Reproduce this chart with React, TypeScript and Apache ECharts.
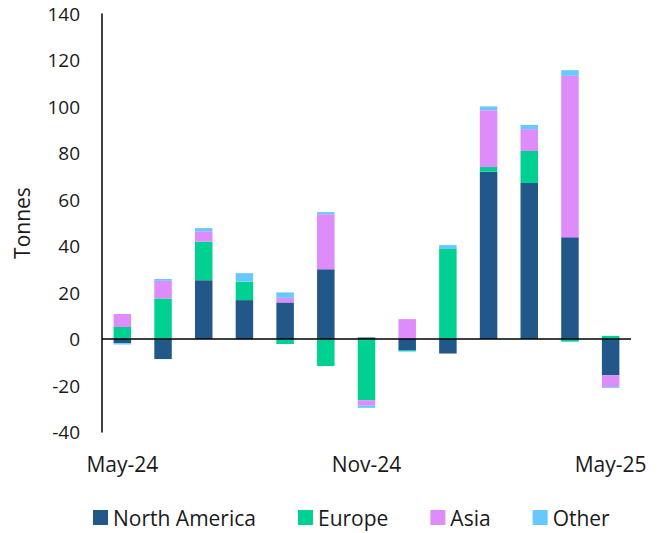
import React, { useEffect, useRef } from "react";
import * as echarts from "echarts";

const categories = [
  "May-24", "Jun-24", "Jul-24", "Aug-24", "Sep-24", "Oct-24", "Nov-24",
  "Dec-24", "Jan-25", "Feb-25", "Mar-25", "Apr-25", "May-25",
];
const northAmerica = [-1.8, -8.6, 25.4, 16.8, 15.8, 30.1, 0.7, -4.7, -6.2, 72.1, 67.2, 43.9, -15.6];
const europe = [5.2, 17.5, 16.5, 7.9, -2.1, -11.6, -26.3, -0.4, 38.8, 2.0, 13.8, -1.1, 1.4];
const asia = [5.6, 7.6, 4.5, 0, 2.0, 23.7, -2.3, 8.6, 0, 24.5, 9.4, 69.5, -5.0];
const other = [-0.5, 0.8, 1.4, 3.7, 2.3, 0.9, -1.0, -0.3, 1.7, 1.6, 1.8, 2.4, -0.4];

const seriesNames = ["North America", "Europe", "Asia", "Other"];
const seriesColors = ["#22578A", "#00D092", "#DD8CFA", "#66C8FF"];

export default function App() {
  const ref = useRef<HTMLDivElement>(null);
  useEffect(() => {
    document.body.style.margin = "0";
    if (!ref.current) return;
    const chart = echarts.init(ref.current, undefined, { renderer: "svg" });
    const font = "'Open Sans', 'Noto Sans', sans-serif";
    const datasets = [northAmerica, europe, asia, other];
    chart.setOption({
      animation: false,
      textStyle: { fontFamily: font },
      grid: { left: 102, right: 32, top: 14, bottom: 101, containLabel: false },
      legend: {
        data: seriesNames,
        left: 88,
        top: 505,
        padding: [2, 5, 2, 5],
        icon: "rect",
        itemWidth: 15,
        itemHeight: 15,
        itemGap: 42,
        textStyle: { fontSize: 21, color: "#1a1a1a", fontFamily: font },
      },
      xAxis: {
        type: "category",
        data: categories,
        axisLine: { show: false, onZero: false },
        axisTick: { show: false },
        axisLabel: { interval: 5, fontSize: 21, color: "#1a1a1a", margin: 21, fontFamily: font },
        splitLine: { show: false },
      },
      yAxis: {
        type: "value",
        min: -40,
        max: 140,
        interval: 20,
        name: "Tonnes",
        nameLocation: "middle",
        nameGap: 70,
        nameTextStyle: { fontSize: 21, color: "#1a1a1a", fontFamily: font },
        axisLine: { show: true, lineStyle: { color: "#000", width: 1.5 } },
        axisTick: { show: false },
        axisLabel: { fontSize: 19, color: "#1a1a1a", margin: 22, fontFamily: font },
        splitLine: { show: false },
      },
      series: datasets.map((d, i) => ({
        name: seriesNames[i],
        type: "bar",
        stack: "total",
        data: d,
        barWidth: "43%",
        itemStyle: { color: seriesColors[i] },
        ...(i === 0
          ? {
              markLine: {
                silent: true,
                symbol: "none",
                label: { show: false },
                lineStyle: { color: "#000", width: 1.5, type: "solid" },
                data: [{ yAxis: 0 }],
              },
            }
          : {}),
      })),
    });
    return () => chart.dispose();
  }, []);
  return <div ref={ref} style={{ width: 663, height: 533 }} />;
}
